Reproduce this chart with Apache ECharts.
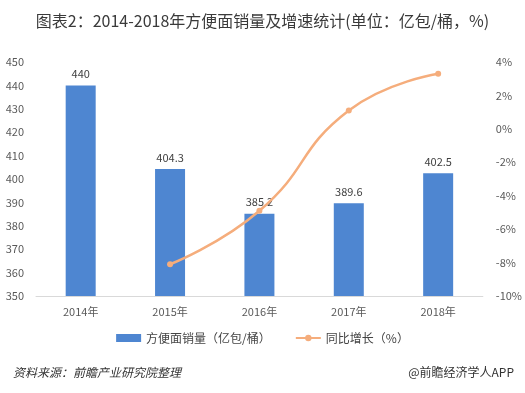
<!DOCTYPE html>
<html><head><meta charset="utf-8">
<script src="https://cdn.jsdelivr.net/npm/echarts@6/dist/echarts.min.js"></script>
<style>html,body{margin:0;padding:0;background:#fff}#c{width:525px;height:393px}</style>
</head><body><div id="c"></div>
<script>
var categories = ['2014年','2015年','2016年','2017年','2018年'];
var sales = [440, 404.3, 385.2, 389.6, 402.5];
var growth = [null, -8.1, -4.9, 1.1, 3.3];
var leftTicks = [350, 450, 10];
var rightTicks = [-10, 4, 2];

var chart = echarts.init(document.getElementById('c'));
var font = '"Microsoft YaHei","Noto Sans CJK SC",sans-serif';
chart.setOption({
  animation: false,
  textStyle: {fontFamily: font},
  title: [{
    text: '图表2：2014-2018年方便面销量及增速统计(单位：亿包/桶，%)',
    left: 'center', top: 8,
    textStyle: {fontSize: 16, fontWeight: 'normal', color: '#3a3a3a', fontFamily: font}
  },{
    text: '资料来源：前瞻产业研究院整理',
    left: 8, top: 361,
    textStyle: {fontSize: 12, fontWeight: 'normal', fontStyle: 'italic', color: '#333', fontFamily: font}
  },{
    text: '@前瞻经济学人APP',
    right: 6, top: 361,
    textStyle: {fontSize: 12, fontWeight: 'normal', color: '#333', fontFamily: font}
  }],
  legend: {
    bottom: 44, left: 'center', itemGap: 24,
    itemWidth: 25, itemHeight: 8,
    textStyle: {fontSize: 12, color: '#444'},
    data: [
      {name: '方便面销量（亿包/桶）', icon: 'rect'},
      {name: '同比增长（%）'}
    ]
  },
  grid: {left: 36, right: 41, top: 62, bottom: 97},
  xAxis: {
    type: 'category', data: categories,
    axisLine: {onZero: false, lineStyle: {color: '#d9d9d9'}},
    axisTick: {show: false},
    axisLabel: {color: '#595959', fontSize: 11, margin: 10}
  },
  yAxis: [{
    type: 'value', min: leftTicks[0], max: leftTicks[1], interval: leftTicks[2],
    axisLine: {show: false}, axisTick: {show: false}, splitLine: {show: false},
    axisLabel: {color: '#595959', fontSize: 11, margin: 12}
  },{
    type: 'value', min: rightTicks[0], max: rightTicks[1], interval: rightTicks[2],
    axisLine: {show: false}, axisTick: {show: false}, splitLine: {show: false},
    axisLabel: {color: '#595959', fontSize: 11, margin: 13, formatter: '{value}%'}
  }],
  series: [{
    name: '方便面销量（亿包/桶）', type: 'bar', data: sales, barWidth: 30,
    itemStyle: {color: '#4e86d1'},
    label: {show: true, position: 'top', color: '#404040', fontSize: 11, distance: 6}
  },{
    name: '同比增长（%）', type: 'line', yAxisIndex: 1, data: growth, smooth: true,
    symbol: 'circle', symbolSize: 6, showSymbol: true,
    lineStyle: {color: '#f5ad7c', width: 2.5},
    itemStyle: {color: '#f5ad7c'}
  }]
});
</script></body></html>
